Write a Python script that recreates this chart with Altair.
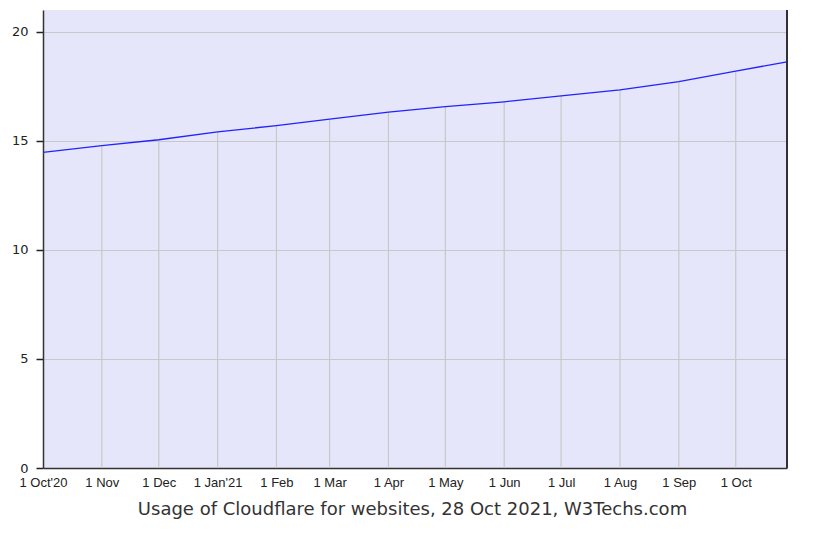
import altair as alt
import pandas as pd

dates = [
    "2020-10-01", "2020-11-01", "2020-12-01", "2021-01-01", "2021-02-01",
    "2021-03-01", "2021-04-01", "2021-05-01", "2021-06-01", "2021-07-01",
    "2021-08-01", "2021-09-01", "2021-10-01", "2021-10-28",
]
values = [14.47, 14.78, 15.05, 15.41, 15.70, 16.00, 16.32, 16.57, 16.79,
          17.06, 17.34, 17.72, 18.20, 18.62]

y_ticks = [0, 5, 10, 15, 20]
title_text = "Usage of Cloudflare for websites, 28 Oct 2021, W3Techs.com"

df = pd.DataFrame({"date": [d + "T00:00:00" for d in dates], "value": values})
grid_df = df.iloc[1:-1].copy()

x_scale = alt.Scale(domain=[dates[0] + "T00:00:00", dates[-1] + "T00:00:00"], nice=False)
y_scale = alt.Scale(domain=[0, 21], nice=False)

label_expr = ("timeFormat(datum.value, '%-d %b') + ((month(datum.value) == 0 || datum.index == 0) "
              "? \"'\" + timeFormat(datum.value, '%y') : '')")

x_axis = alt.Axis(
    title=title_text,
    tickCount={"interval": "month", "step": 1},
    labelExpr=label_expr,
    grid=False,
    ticks=False,
    labelPadding=8,
    labelFont="Liberation Sans",
    labelFontSize=13,
    labelColor="#222222",
    labelOverlap=False,
    labelFlush=False,
    titleFont="DejaVu Sans",
    titleFontSize=18,
    titleFontWeight="normal",
    titleColor="#333333",
    titlePadding=11,
    titleX=369,
    domainColor="#333333",
    domainWidth=1.5,
)

y_axis = alt.Axis(
    title=None,
    values=y_ticks,
    grid=True,
    gridColor="#c8c8c8",
    gridWidth=1.2,
    tickSize=7,
    tickColor="#222222",
    tickWidth=1.5,
    labelPadding=8,
    labelFont="DejaVu Sans",
    labelFontSize=13,
    labelColor="#222222",
    domainColor="#333333",
    domainWidth=1.5,
)

base = alt.Chart(df)

vgrid = alt.Chart(grid_df).mark_rule(color="#c8c8c8", strokeWidth=1.2).encode(
    x=alt.X("date:T", scale=x_scale, axis=x_axis),
    y=alt.Y("y0:Q", scale=y_scale, axis=y_axis),
    y2="value:Q",
).transform_calculate(y0="0")

line = base.mark_line(color="#2222ff", strokeWidth=1.3).encode(
    x=alt.X("date:T", scale=x_scale),
    y=alt.Y("value:Q", scale=y_scale),
)

border = base.mark_rule(color="#333333", strokeWidth=1.5).encode(
    x=alt.value(744), y=alt.value(0), y2=alt.value(458)
)

chart = alt.layer(vgrid, line, border).properties(
    width=744,
    height=458,
    background="white",
    autosize=alt.AutoSizeParams(type="none"),
    padding={"left": 35, "top": 2, "right": 20, "bottom": 54},
).configure_view(
    fill="#e6e6fa",
    stroke=None,
)

chart.save("out.html", embed_options={"renderer": "svg", "actions": False})
